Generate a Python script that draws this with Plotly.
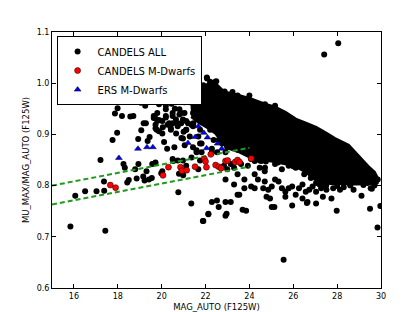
import plotly.graph_objects as go

# CANDELS ALL: sparse points
all_x = [15.84,16.06,16.51,17.03,17.21,17.38,17.43,17.37,17.76,17.87,17.97,17.99,18.10,18.19,18.26,18.32,18.37,18.43,18.50,18.57,
         18.86,18.93,19.05,19.07,19.16,19.22,19.25,19.28,19.31,19.36,19.36,19.41,19.42,19.45,19.55,19.58,19.64,19.70,19.70,19.74,
         19.77,19.81,19.88,19.94,19.98,20.05,20.11,20.19,20.25,20.19,20.25,20.34,20.53,20.64,20.76,20.79,20.98,21.35,21.88,22.13,
         22.07,18.71,19.18,19.64,19.80,19.72,19.88,20.03,20.11,20.19,20.27,20.42,20.50,20.58,20.66,20.73,20.81,20.97,20.97,21.05,
         21.12,21.28,21.36,21.43,21.59,21.67,21.75,21.82,21.90,22.29,22.53,22.60,22.76,22.99,23.15,23.23,23.38,23.54,20.03,20.50,
         20.73,20.97,21.12,21.36,21.67,21.75,22.84,22.99,23.15,23.30,23.62,23.93,24.24,24.47,18.79,18.94,19.57,19.72,21.51,21.68,
         21.90,22.21,22.37,20.65,20.97,21.28,20.81,21.04,21.43,20.50,20.34,20.65,20.89,21.20,21.43,21.74,21.59,21.20,22.06,22.45,
         22.29,21.90,21.36,21.59,21.12,23.23,24.00,24.71,22.49,22.87,23.07,23.46,25.17,21.44,21.75,22.21,22.37,21.82,21.59,22.29,
         22.91,22.91,23.23,23.46,23.93,24.40,24.86,25.33,25.64,25.95,24.24,24.55,25.17,24.71,22.91,23.46,23.30,23.77,24.24,24.39,
         24.08,24.24,24.70,24.70,24.63,24.86,25.02,24.78,24.94,25.17,25.33,25.48,25.64,25.79,25.95,26.11,26.26,26.42,26.57,26.73,
         26.88,27.04,27.27,27.51,27.82,28.13,28.60,28.75,29.07,29.53,29.77,29.53,22.29,22.52,22.60,22.91,23.15,22.13,21.90,22.96,
         22.91,23.46,23.77,23.54,23.69,23.85,25.02,25.14,25.64,25.95,26.42,26.65,27.04,27.74,27.98,29.50,29.97,29.84,25.56,24.08,
         24.47,24.75,25.48,25.79,26.11,26.50,27.04,27.43,28.29,29.22,29.11,29.58,29.38,29.66,26.62,27.35,27.41,28.05,
         19.88,20.27,19.72,20.19,20.81,19.88,21.04,19.80,20.19,20.50,20.89,20.03,20.73,21.12,20.42,21.12,21.43,19.72,21.28,21.59,
         22.34,20.45,20.60,21.00,20.90,
         26.00,26.80,27.50,28.00,28.60,29.20,29.70,25.30,24.60,29.85,27.20,28.30]
all_y = [0.720,0.780,0.789,0.789,0.850,0.790,0.712,0.808,0.889,0.941,0.903,0.951,0.964,0.936,0.842,0.835,0.987,0.806,0.811,0.935,
         0.814,0.891,0.962,0.908,0.818,0.810,0.956,0.922,0.828,0.887,1.000,0.996,0.812,0.895,0.815,0.973,0.936,0.932,0.972,0.993,
         0.909,0.969,0.928,0.965,0.824,0.914,0.993,0.933,0.872,0.956,0.983,0.999,0.848,0.997,0.787,0.823,0.820,0.765,0.731,0.744,
         1.009,0.936,0.922,0.932,0.926,0.912,0.906,0.902,0.885,0.936,0.919,0.909,0.922,0.875,0.902,0.916,0.939,0.929,0.892,0.879,
         0.909,0.896,0.919,0.875,0.869,0.896,0.882,0.865,0.932,0.872,0.865,0.889,0.882,0.875,0.879,0.889,0.882,0.875,0.828,0.852,
         0.849,0.849,0.839,0.855,0.832,0.849,0.839,0.832,0.842,0.835,0.842,0.839,0.849,0.835,0.832,0.842,0.842,0.845,0.996,1.003,
         0.989,1.003,1.000,0.963,0.969,0.963,0.949,0.942,0.942,0.942,0.922,0.929,0.922,0.922,0.976,0.969,0.956,0.979,1.011,1.003,
         0.993,0.996,0.983,0.979,0.976,0.983,0.976,0.959,1.004,0.984,0.976,0.976,0.956,0.922,0.909,0.909,0.889,0.882,0.865,0.865,
         0.889,0.865,0.879,0.870,0.875,0.872,0.865,0.858,0.852,0.842,0.848,0.848,0.842,0.835,0.812,0.822,0.802,0.812,0.822,0.812,
         0.798,0.795,0.828,0.808,0.795,0.792,0.798,0.778,0.775,0.812,0.808,0.795,0.788,0.795,0.798,0.782,0.795,0.802,0.788,0.792,
         0.798,0.788,0.795,0.792,0.795,0.792,0.802,0.792,0.808,0.808,0.807,0.795,0.768,0.771,0.758,0.768,0.768,0.745,0.731,0.745,
         0.741,0.782,0.795,0.782,0.753,0.751,0.758,0.758,0.778,0.761,0.775,0.768,0.765,0.775,0.751,0.755,0.760,0.718,0.655,0.852,
         0.849,0.847,0.832,0.839,0.835,0.822,0.805,0.802,0.805,0.812,0.780,0.794,0.805,0.805,0.766,0.778,1.056,1.078,
         0.986,0.983,0.976,0.962,0.973,0.959,0.963,0.942,0.949,0.936,0.942,0.926,0.922,0.926,0.912,0.909,0.916,0.919,0.986,0.993,
         0.989,0.960,0.950,0.905,0.893,
         0.838,0.815,0.800,0.799,0.800,0.801,0.800,0.845,0.850,0.812,0.802,0.797]

# Outline of the solid dense part of the CANDELS ALL cloud
core_x = [21.30,21.45,21.90,22.23,22.46,22.84,23.44,24.10,24.71,25.17,25.64,26.11,26.57,27.04,27.51,27.90,28.52,28.96,29.24,29.47,29.70,29.82,
          29.80,29.50,28.90,28.30,27.70,27.28,26.96,26.60,26.30,25.70,25.00,24.20,23.54,22.97,22.46,22.14,21.67,21.35]
core_y = [0.965,0.982,0.991,1.003,0.999,0.983,0.977,0.969,0.959,0.953,0.943,0.930,0.922,0.914,0.902,0.892,0.879,0.858,0.845,0.835,0.826,0.816,
          0.806,0.804,0.803,0.803,0.804,0.806,0.813,0.826,0.833,0.842,0.848,0.852,0.866,0.874,0.902,0.912,0.924,0.935]

# CANDELS M-Dwarfs
cm_x = [17.66,17.90,20.06,20.31,20.86,20.92,21.14,21.52,21.95,22.00,22.04,22.24,22.46,22.60,22.71,22.91,23.01,23.35,23.46,23.55,24.08]
cm_y = [0.801,0.796,0.820,0.836,0.836,0.829,0.830,0.837,0.852,0.847,0.836,0.861,0.840,0.837,0.834,0.848,0.849,0.846,0.850,0.846,0.853]

# ERS M-Dwarfs
ers_x = [18.05,18.92,19.33,19.60,21.20,21.53,21.67,21.92,22.09,22.05,22.55,22.74]
ers_y = [0.854,0.872,0.875,0.875,0.883,0.895,0.916,0.903,0.894,0.873,0.882,0.872]

# dashed selection lines
cut_x = [15.0, 24.0]
upper_y = [0.800, 0.874]
lower_y = [0.763, 0.837]

x_ticks = [16, 18, 20, 22, 24, 26, 28, 30]
y_ticks = [0.6, 0.7, 0.8, 0.9, 1.0, 1.1]

FONT = "DejaVu Sans"
fig = go.Figure()

fig.add_trace(go.Scatter(x=core_x, y=core_y, mode="lines", fill="toself", fillcolor="black",
                         line=dict(color="black", width=3), showlegend=False, hoverinfo="skip"))
fig.add_trace(go.Scatter(x=all_x, y=all_y, mode="markers", name="CANDELS ALL",
                         marker=dict(color="black", size=6, line=dict(width=0))))
for yy in (upper_y, lower_y):
    fig.add_trace(go.Scatter(x=cut_x, y=yy, mode="lines", showlegend=False,
                             line=dict(color="#1e9a1e", width=2, dash="5px,3px")))
fig.add_trace(go.Scatter(x=cm_x, y=cm_y, mode="markers", name="CANDELS M-Dwarfs",
                         marker=dict(color="#ff0000", size=6, line=dict(color="black", width=0.5))))
fig.add_trace(go.Scatter(x=ers_x, y=ers_y, mode="markers", name="ERS M-Dwarfs",
                         marker=dict(color="#0000ff", size=6, symbol="triangle-up",
                                     line=dict(color="black", width=0.5))))

axis_common = dict(showline=True, linecolor="black", linewidth=1, mirror="ticks",
                   ticks="inside", ticklen=4, tickcolor="black", showgrid=False, zeroline=False,
                   tickfont=dict(family=FONT, size=8, color="black"))
fig.update_xaxes(range=[15, 30], tickvals=x_ticks, ticktext=[str(v) for v in x_ticks],
                 title=dict(text="MAG_AUTO (F125W)", font=dict(family=FONT, size=8.5, color="black"), standoff=5),
                 **axis_common)
fig.update_yaxes(range=[0.6, 1.1], tickvals=y_ticks, ticktext=[f"{v:.1f}" for v in y_ticks],
                 title=dict(text="MU_MAX/MAG_AUTO (F125W)", font=dict(family=FONT, size=8.5, color="black"), standoff=5),
                 **axis_common)

# the page body has an 8px margin, so the figure is 8px smaller and shifted
fig.update_layout(
    width=407, height=304,
    margin=dict(l=44, r=34, t=24, b=24, autoexpand=False),
    paper_bgcolor="white", plot_bgcolor="white",
    legend=dict(x=0.014, y=0.984, xanchor="left", yanchor="top", bgcolor="white",
                bordercolor="black", borderwidth=1, font=dict(family=FONT, size=10, color="black"),
                itemwidth=30, tracegroupgap=0),
)

fig.write_html("out.html")
